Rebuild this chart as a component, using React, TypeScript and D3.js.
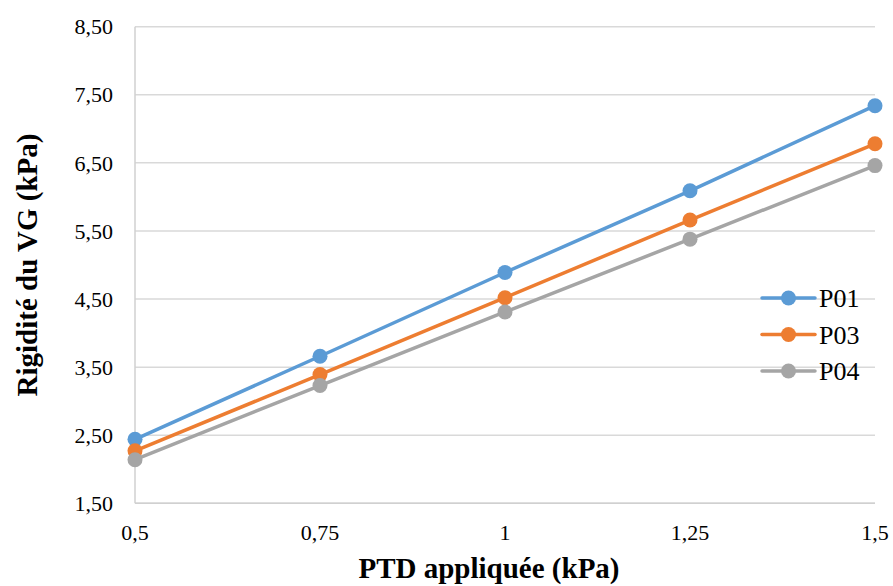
import React from "react";
import * as d3 from "d3";

const categories = ["0,5", "0,75", "1", "1,25", "1,5"];
const p01 = [2.44, 3.66, 4.89, 6.09, 7.34];
const p03 = [2.27, 3.39, 4.52, 5.66, 6.78];
const p04 = [2.14, 3.23, 4.31, 5.38, 6.46];
const yTicks = [1.5, 2.5, 3.5, 4.5, 5.5, 6.5, 7.5, 8.5];

const seriesNames = ["P01", "P03", "P04"];
const seriesValues = [p01, p03, p04];
const seriesColors = ["#5B9BD5", "#ED7D31", "#A5A5A5"];

const W = 893;
const H = 586;
const left = 135;
const right = 875;
const top = 26.7;
const bottom = 503.3;
const serif = { fontFamily: "'Liberation Serif', 'Times New Roman', Times, serif" };

export default function App() {
  const x = d3.scalePoint<string>().domain(categories).range([left, right]);
  const y = d3.scaleLinear().domain([1.5, 8.5]).range([bottom, top]);
  const fmt = (v: number) => v.toFixed(2).replace(".", ",");

  const line = d3
    .line<number>()
    .x((_, i) => x(categories[i]) as number)
    .y((d) => y(d));

  const legendY = [298, 334.5, 371];

  return (
    <svg
      width={W}
      height={H}
      style={{ position: "absolute", left: 0, top: 0, background: "#fff" }}
    >
      {/* horizontal gridlines */}
      {yTicks.map((t) => (
        <line
          key={t}
          x1={left}
          x2={right}
          y1={y(t)}
          y2={y(t)}
          stroke="#D9D9D9"
          strokeWidth={1.5}
        />
      ))}
      {/* axis lines */}
      <line x1={left} x2={left} y1={top} y2={bottom} stroke="#D0D0D0" strokeWidth={1.5} />
      <line x1={left} x2={right} y1={bottom} y2={bottom} stroke="#D0D0D0" strokeWidth={1.5} />

      {/* y tick labels */}
      {yTicks.map((t) => (
        <text
          key={t}
          x={113}
          y={y(t)}
          dy="0.35em"
          textAnchor="end"
          fontSize={22}
          fill="#000"
          style={serif}
        >
          {fmt(t)}
        </text>
      ))}

      {/* x tick labels */}
      {categories.map((c) => (
        <text
          key={c}
          x={x(c)}
          y={540}
          textAnchor="middle"
          fontSize={22}
          fill="#000"
          style={serif}
        >
          {c}
        </text>
      ))}

      {/* series */}
      {seriesValues.map((vals, si) => (
        <g key={seriesNames[si]}>
          <path
            d={line(vals) || ""}
            fill="none"
            stroke={seriesColors[si]}
            strokeWidth={3.5}
            strokeLinejoin="round"
            strokeLinecap="round"
          />
          {vals.map((v, i) => (
            <circle
              key={i}
              cx={x(categories[i])}
              cy={y(v)}
              r={7.5}
              fill={seriesColors[si]}
            />
          ))}
        </g>
      ))}

      {/* legend */}
      {seriesNames.map((n, si) => (
        <g key={n}>
          <line
            x1={762}
            x2={815}
            y1={legendY[si]}
            y2={legendY[si]}
            stroke={seriesColors[si]}
            strokeWidth={3.5}
            strokeLinecap="round"
          />
          <circle cx={788.5} cy={legendY[si]} r={7.5} fill={seriesColors[si]} />
          <text x={819} y={legendY[si]} dy="0.35em" fontSize={26} fill="#000" style={serif}>
            {n}
          </text>
        </g>
      ))}

      {/* axis titles */}
      <text
        x={489}
        y={578}
        textAnchor="middle"
        fontSize={29}
        fontWeight="bold"
        fill="#000"
        style={serif}
      >
        PTD appliquée (kPa)
      </text>
      <text
        transform={`translate(37, 265) rotate(-90)`}
        textAnchor="middle"
        fontSize={29}
        fontWeight="bold"
        fill="#000"
        style={serif}
      >
        Rigidité du VG (kPa)
      </text>
    </svg>
  );
}
